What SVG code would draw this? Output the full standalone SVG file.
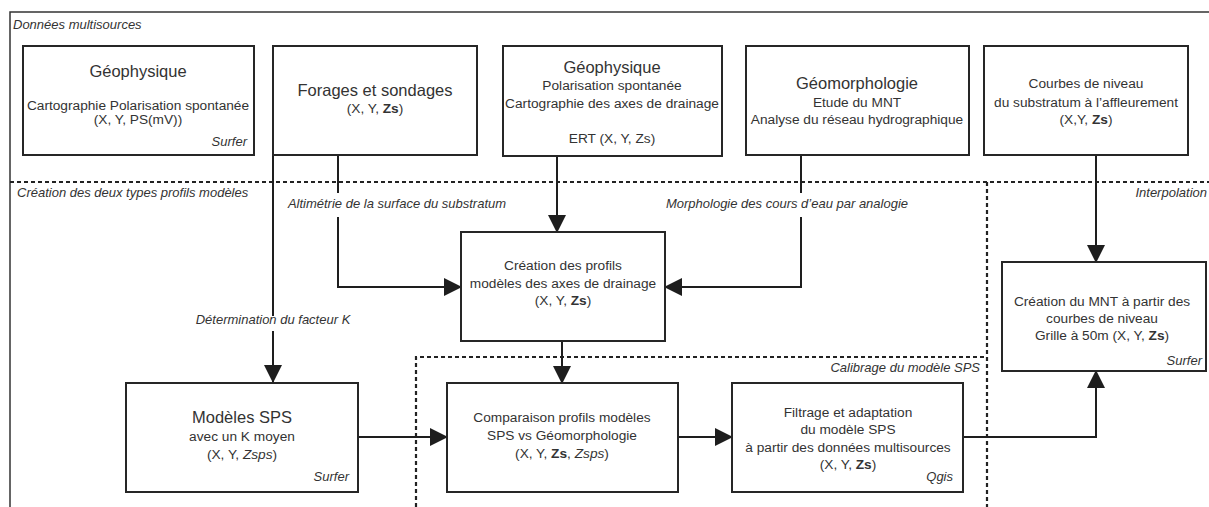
<svg xmlns="http://www.w3.org/2000/svg" width="1209" height="507" viewBox="0 0 1209 507">
<defs>
<marker id="ah" markerUnits="userSpaceOnUse" markerWidth="18" markerHeight="18" viewBox="0 0 18 18" refX="17" refY="9" orient="auto"><path d="M0,0 L18,9 L0,18 z" fill="#1e1e1e"/></marker>
</defs>
<style>
.box{fill:#fff;stroke:#262626;stroke-width:2}
.t{font-family:"Liberation Sans",Arial,sans-serif;fill:#333;font-size:13.7px;text-anchor:middle}
.h{font-size:16.5px}
.i{font-family:"Liberation Sans",Arial,sans-serif;font-style:italic;font-size:13px;fill:#333}
.r{text-anchor:end}
.m{text-anchor:middle}
.b{font-weight:bold}
.it{font-style:italic}
.c{fill:none;stroke:#1e1e1e;stroke-width:2}
.d{fill:none;stroke:#222;stroke-width:2.2;stroke-dasharray:4 3}
</style>
<rect width="1209" height="507" fill="#fff"/>
<g id="frames">
<path d="M10,507 V12 H1209" fill="none" stroke="#333" stroke-width="1.5"/>
<path class="d" d="M10,182 H1209"/>
<path class="d" d="M987,182 V507"/>
<path class="d" d="M416,507 V357 H987"/>
<text class="i" x="13" y="29">Données multisources</text>
<text class="i" x="17" y="197">Création  des deux types profils modèles</text>
<text class="i r" x="1207" y="197">Interpolation</text>
<text class="i r" x="980" y="372">Calibrage du modèle SPS</text>
</g>
<g id="connectors">
<path class="c" d="M273,155 V316 M273,331 V382" marker-end="url(#ah)"/>
<path class="c" d="M338,155 V193 M338,217 V287 H461" marker-end="url(#ah)"/>
<path class="c" d="M557,156 V232" marker-end="url(#ah)"/>
<path class="c" d="M801,155 V193 M801,217 V287 H665" marker-end="url(#ah)"/>
<path class="c" d="M1096,155 V262" marker-end="url(#ah)"/>
<path class="c" d="M562,341 V383" marker-end="url(#ah)"/>
<path class="c" d="M358,437 H447" marker-end="url(#ah)"/>
<path class="c" d="M678,437 H732" marker-end="url(#ah)"/>
<path class="c" d="M963,437 H1096 V371" marker-end="url(#ah)"/>
<text class="i m" x="397" y="208">Altimétrie de la surface du substratum</text>
<text class="i m" x="787" y="208">Morphologie des cours d’eau par analogie</text>
<text class="i m" x="273" y="324">Détermination du facteur K</text>
</g>
<g id="geophysique-ps">
<rect class="box" x="23" y="46" width="231" height="109"/>
<text class="t h" x="138" y="77">Géophysique</text>
<text class="t" x="138" y="110">Cartographie Polarisation spontanée</text>
<text class="t" x="138" y="124">(X, Y, PS(mV))</text>
<text class="i r" x="247" y="146">Surfer</text>
</g>
<g id="forages">
<rect class="box" x="273" y="46" width="204" height="109"/>
<text class="t h" x="375" y="96">Forages et sondages</text>
<text class="t" x="375" y="113">(X, Y, <tspan class="b">Zs</tspan>)</text>
</g>
<g id="geophysique-ert">
<rect class="box" x="503" y="46" width="219" height="110"/>
<text class="t h" x="612" y="73">Géophysique</text>
<text class="t" x="612" y="90">Polarisation spontanée</text>
<text class="t" x="612" y="108">Cartographie des axes de drainage</text>
<text class="t" x="612" y="143">ERT (X, Y, Zs)</text>
</g>
<g id="geomorphologie">
<rect class="box" x="746" y="46" width="223" height="109"/>
<text class="t h" x="857" y="89">Géomorphologie</text>
<text class="t" x="857" y="107">Etude du MNT</text>
<text class="t" x="857" y="124">Analyse du réseau hydrographique</text>
</g>
<g id="courbes">
<rect class="box" x="984" y="46" width="204" height="109"/>
<text class="t" x="1086" y="88">Courbes de niveau</text>
<text class="t" x="1086" y="107">du substratum à l’affleurement</text>
<text class="t" x="1086" y="124">(X,Y, <tspan class="b">Zs</tspan>)</text>
</g>
<g id="creation-profils">
<rect class="box" x="461" y="232" width="204" height="109"/>
<text class="t" x="563" y="270">Création des profils</text>
<text class="t" x="563" y="288">modèles des axes de drainage</text>
<text class="t" x="563" y="305">(X, Y, <tspan class="b">Zs</tspan>)</text>
</g>
<g id="creation-mnt">
<rect class="box" x="1002" y="262" width="204" height="109"/>
<text class="t" x="1102" y="306">Création du MNT à partir des</text>
<text class="t" x="1102" y="323">courbes de niveau</text>
<text class="t" x="1102" y="340">Grille à 50m (X, Y, <tspan class="b">Zs</tspan>)</text>
<text class="i r" x="1202" y="365">Surfer</text>
</g>
<g id="modeles-sps">
<rect class="box" x="126" y="383" width="232" height="109"/>
<text class="t h" x="242" y="423">Modèles SPS</text>
<text class="t" x="242" y="441">avec un K moyen</text>
<text class="t" x="242" y="459">(X, Y, <tspan class="it">Zsps</tspan>)</text>
<text class="i r" x="349" y="481">Surfer</text>
</g>
<g id="comparaison">
<rect class="box" x="447" y="383" width="231" height="109"/>
<text class="t" x="562" y="422">Comparaison profils modèles</text>
<text class="t" x="562" y="440">SPS vs Géomorphologie</text>
<text class="t" x="562" y="458">(X, Y, <tspan class="b">Zs</tspan>, <tspan class="it">Zsps</tspan>)</text>
</g>
<g id="filtrage">
<rect class="box" x="732" y="383" width="231" height="109"/>
<text class="t" x="848" y="417">Filtrage et adaptation</text>
<text class="t" x="848" y="434">du modèle SPS</text>
<text class="t" x="848" y="452">à partir des données multisources</text>
<text class="t" x="848" y="469">(X, Y, <tspan class="b">Zs</tspan>)</text>
<text class="i r" x="953" y="481">Qgis</text>
</g>
</svg>
